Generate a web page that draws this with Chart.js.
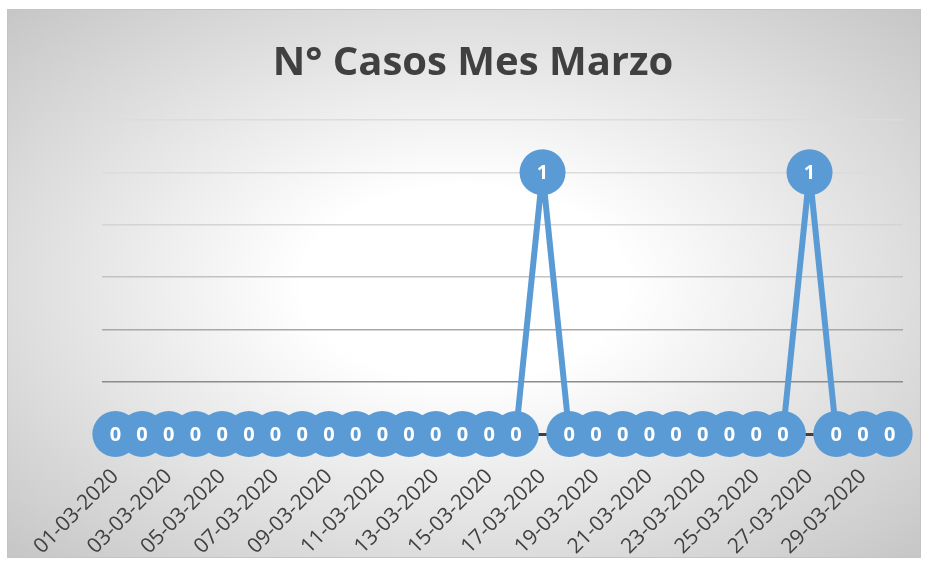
<!DOCTYPE html>
<html>
<head>
<meta charset="utf-8">
<script src="https://cdn.jsdelivr.net/npm/chart.js@4/dist/chart.umd.min.js"></script>
<style>
  html, body { margin: 0; padding: 0; background: #fff; }
  #box {
    position: absolute; left: 7px; top: 9px; width: 912px; height: 547px;
    border: 1px solid #c4c4c4;
    background: radial-gradient(ellipse farthest-corner at 50% 50%, #ffffff 0%, #ffffff 25%, #c6c6c6 100%);
  }
  canvas { display: block; }
</style>
</head>
<body>
<div id="box"><canvas id="chart" width="912" height="547"></canvas></div>
<script>
// datos del mes de marzo
const days = ['01','02','03','04','05','06','07','08','09','10','11','12','13','14','15',
              '16','17','18','19','20','21','22','23','24','25','26','27','28','29','30'];
const labels = days.map(d => d + '-03-2020');
const casos = [0,0,0,0,0,0,0,0,0,0,0,0,0,0,0,0,1,0,0,0,0,0,0,0,0,0,1,0,0,0];

const BLUE = '#5b9bd5';
const gridColors = ['rgba(0,0,0,0)', '#8c8c8c', '#a8a8a8', '#c2c2c2', '#d4d4d4', '#dcdcdc', '#dcdcdc'];

// etiquetas blancas dentro de cada punto
const pointLabels = {
  id: 'pointLabels',
  afterDatasetsDraw(chart) {
    const ctx = chart.ctx;
    const meta = chart.getDatasetMeta(0);
    ctx.save();
    ctx.fillStyle = '#ffffff';
    ctx.font = 'bold 20px "Open Sans", sans-serif';
    ctx.textAlign = 'center';
    ctx.textBaseline = 'middle';
    meta.data.forEach((pt, i) => {
      ctx.fillText(String(casos[i]), pt.x, pt.y + 1);
    });
    ctx.restore();
  }
};

new Chart(document.getElementById('chart'), {
  type: 'line',
  data: {
    labels: labels,
    datasets: [{
      data: casos,
      borderColor: BLUE,
      borderWidth: 6,
      borderJoinStyle: 'round',
      backgroundColor: BLUE,
      pointBackgroundColor: BLUE,
      pointBorderColor: BLUE,
      pointBorderWidth: 0,
      pointRadius: 23,
      tension: 0,
      clip: false
    }]
  },
  options: {
    responsive: false,
    animation: false,
    layout: { autoPadding: false, padding: { left: 35, right: 17, top: 0, bottom: 0 } },
    plugins: {
      legend: { display: false },
      tooltip: { enabled: false },
      title: {
        display: true,
        text: 'N° Casos Mes Marzo',
        color: '#404040',
        font: { family: '"Open Sans", sans-serif', size: 40, weight: 'bold' },
        padding: { top: 30, bottom: 32 }
      }
    },
    scales: {
      x: {
        offset: true,
        afterFit: function (scale) {
          scale.height = 123;
          scale.paddingLeft = 0;
          scale.paddingRight = 0;
        },
        grid: { display: false },
        border: { display: true, color: '#404040', width: 3 },
        ticks: {
          autoSkip: false,
          maxRotation: 45,
          minRotation: 45,
          color: '#404040',
          font: { family: '"Open Sans", sans-serif', size: 21 },
          padding: 22,
          callback: function (v, i) { return i % 2 === 0 ? labels[i] : ''; }
        }
      },
      y: {
        min: 0,
        max: 1.2,
        afterFit: function (scale) { scale.width = 59; },
        ticks: { display: false, stepSize: 0.2 },
        border: { display: false },
        grid: {
          drawTicks: false,
          lineWidth: 1.5,
          color: ctx => gridColors[ctx.index] || '#dcdcdc'
        }
      }
    }
  },
  plugins: [pointLabels]
});
</script>
</body>
</html>
